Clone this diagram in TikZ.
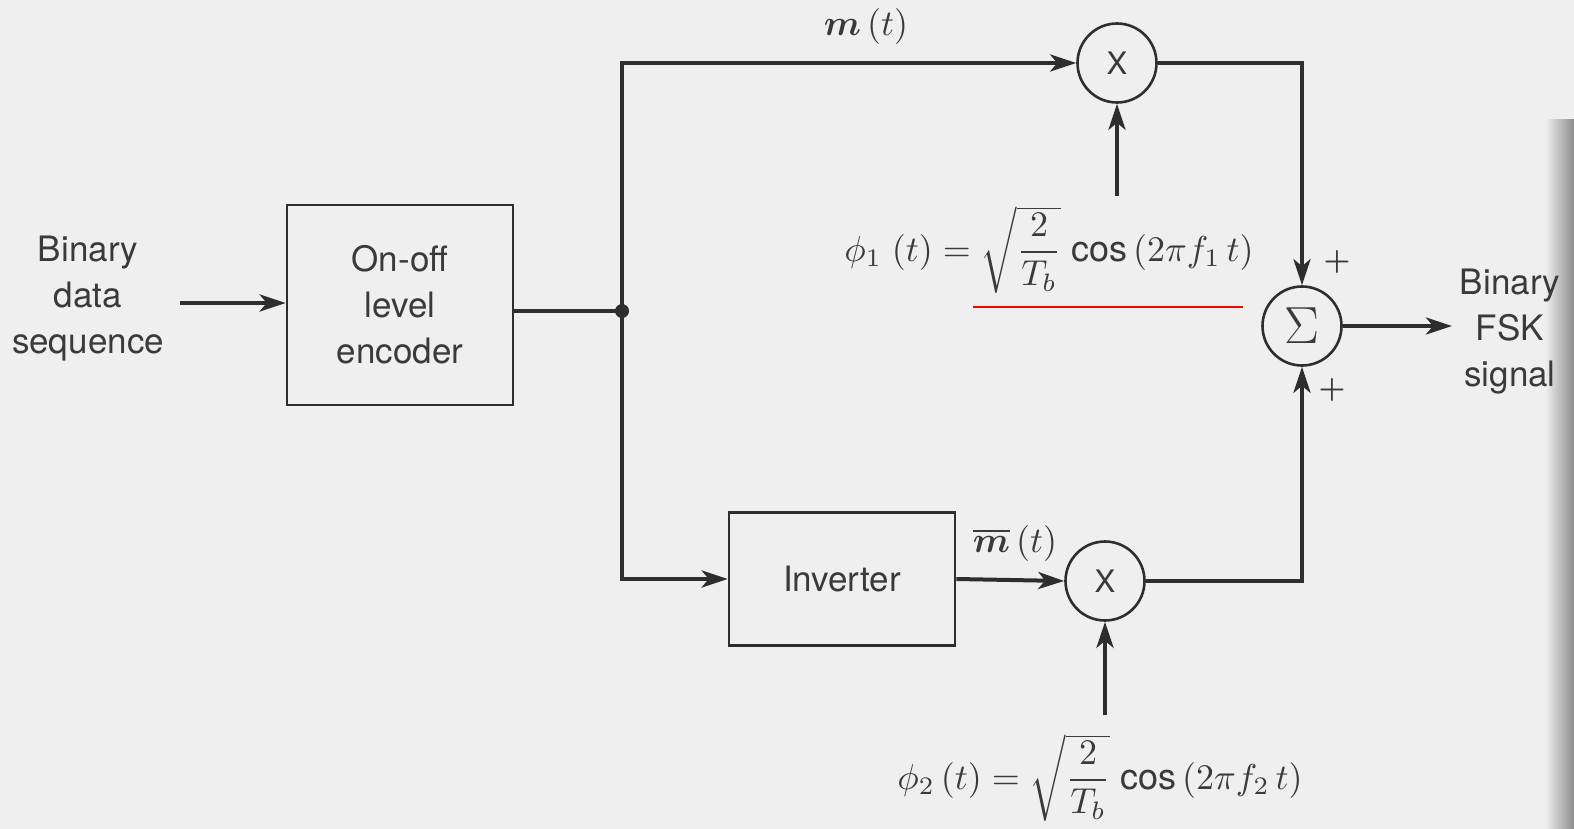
\documentclass[tikz,border=0pt]{standalone}
\usepackage[no-math]{fontspec}
\setmainfont{TeX Gyre Heros}
\usepackage{amsmath}
\usetikzlibrary{arrows.meta,calc}
\definecolor{bg}{HTML}{EFEFEF}
\definecolor{ink}{HTML}{2E2E2E}
\definecolor{txt}{HTML}{3A3A3A}
\newcommand{\scaledmath}[2][3]{\scalebox{#1}{$#2$}}
\begin{document}
\begin{tikzpicture}[x=1pt,y=-1pt,
  wire/.style={draw=ink,line width=4pt},
  arr/.style={wire,-{Stealth[length=26pt,width=17pt,inset=7pt]}},
  blockbox/.style={draw=ink,line width=2.6pt,inner sep=0pt,align=center,text=txt,
    font=\fontsize{35}{46}\selectfont},
  mixer/.style={circle,draw=ink,line width=2.6pt,minimum size=79pt,inner sep=0pt,text=txt,
    font=\fontsize{31}{36}\selectfont},
  lbl/.style={text=txt,align=center,font=\fontsize{35}{46}\selectfont},
  mathlbl/.style={text=txt,inner sep=0pt},
  sign/.style={text=txt,inner sep=0pt}]
\useasboundingbox (0,0) rectangle (1574,829);
\fill[bg] (0,0) rectangle (1574,829);
\shade[left color=bg,right color=black!45] (1545,120) rectangle (1574,829);

% blocks
\node[lbl] (src) at (88,299) {Binary\\data\\sequence};
\node[blockbox,minimum width=226pt,minimum height=200pt] (enc) at (400,305) {On-off\\level\\encoder};
\node[blockbox,minimum width=226pt,minimum height=133pt] (inv) at (842,579) {Inverter};
\node[mixer] (m1) at (1117,63) {X};
\node[mixer] (m2) at (1105,581) {X};
\node[mixer] (sum) at (1302,326) {\scaledmath[2.1]{\Sigma}};
\node[lbl] (dst) at (1510,332) {Binary\\FSK\\signal};
\coordinate (j) at (622,311);
\coordinate (inS) at (180,303);
\coordinate (p1) at (1117,196);
\coordinate (p2) at (1105,715);
\coordinate (outE) at (1452,326);

% labels
\node[mathlbl] (mt) at (866,27) {\scaledmath[3.6]{\boldsymbol{m}\,(t)}};
\node[mathlbl] (mbt) at (1015,543) {\scaledmath[3.6]{\overline{\boldsymbol{m}}\,(t)}};
\node[mathlbl] (phi1) at (1049,250) {\scaledmath[3.6]{\phi_1\;(t)=\sqrt{\dfrac{2}{T_b}}\;\text{cos}\,(2\pi f_1\,t)}};
\node[mathlbl] (phi2) at (1100,778) {\scaledmath[3.6]{\phi_2\,(t)=\sqrt{\dfrac{2}{T_b}}\;\text{cos}\,(2\pi f_2\,t)}};
\node[sign] (plus1) at (1337,262) {\scaledmath[3]{\boldsymbol{+}}};
\node[sign] (plus2) at (1332,390) {\scaledmath[3]{\boldsymbol{+}}};

% connectors
\draw[arr] (inS) -- (inS -| enc.west);
\draw[wire] (enc.east |- j) -- (j);
\fill[ink] (j) circle (7pt);
\draw[arr] (j) |- (m1.west);
\draw[arr] (j) |- (inv.west);
\draw[arr] (inv.east) -- (m2.west);
\draw[arr] (p1) -- (m1.south);
\draw[arr] (p2) -- (m2.south);
\draw[arr] (m1.east) -| (sum.north);
\draw[arr] (m2.east) -| (sum.south);
\draw[arr] (sum.east) -- (outE);

% red annotation line
\draw[red,line width=2pt] (973,307) -- (1243,307);
\end{tikzpicture}
\end{document}
